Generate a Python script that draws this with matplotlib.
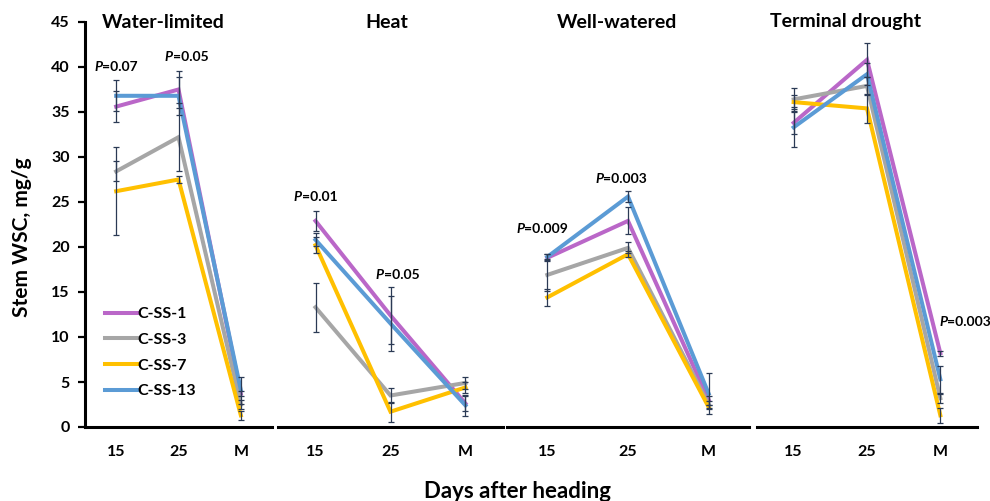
import matplotlib
matplotlib.use("Agg")
import matplotlib.pyplot as plt
from matplotlib.offsetbox import TextArea, HPacker, AnnotationBbox

plt.rcParams['font.family'] = ['Lato', 'DejaVu Sans']
plt.rcParams['font.weight'] = 'bold'

days = ['15', '25', 'M']
panels = ['Water-limited', 'Heat', 'Well-watered', 'Terminal drought']
lines_names = ['C-SS-1', 'C-SS-3', 'C-SS-7', 'C-SS-13']
colors = ['#BA67C8', '#A6A6A6', '#FFC000', '#5B9BD5']

# means per panel, per line
wl_mean = [[35.6, 37.5, 3.7], [28.4, 32.2, 2.5], [26.2, 27.5, 1.3], [36.8, 36.8, 4.1]]
wl_err = [[1.7, 2.1, 0.3], [1.1, 3.8, 0.5], [4.9, 0.4, 0.5], [1.7, 2.1, 1.5]]
heat_mean = [[22.9, 12.4, 2.6], [13.3, 3.5, 4.9], [20.2, 1.7, 4.4], [20.8, 11.5, 2.4]]
heat_err = [[1.1, 3.2, 0.8], [2.7, 0.8, 0.7], [0.9, 1.1, 0.6], [0.7, 3.1, 1.2]]
ww_mean = [[18.8, 22.9, 3.0], [16.9, 19.9, 2.5], [14.4, 19.2, 2.2], [18.9, 25.6, 3.7]]
ww_err = [[0.4, 1.5, 0.5], [1.8, 0.6, 0.4], [0.9, 0.3, 0.2], [0.3, 0.6, 2.3]]
td_mean = [[33.8, 40.8, 8.2], [36.4, 37.9, 3.2], [36.1, 35.4, 1.3], [33.3, 39.2, 5.3]]
td_err = [[1.2, 1.9, 0.3], [1.3, 1.0, 0.5], [0.8, 1.6, 0.8], [2.2, 1.2, 1.5]]

means = [wl_mean, heat_mean, ww_mean, td_mean]
errs = [wl_err, heat_err, ww_err, td_err]

# P-value notes: panel, day index, y value, label, x offset in px
p_panel = [0, 0, 1, 1, 2, 2, 3]
p_day = [0, 1, 0, 1, 0, 1, 2]
p_y = [40.0, 41.1, 25.6, 16.9, 22.0, 27.6, 11.7]
p_text = ['=0.07', '=0.05', '=0.01', '=0.05', '=0.009', '=0.003', '=0.003']
p_dx = [0, 8, 0, 7, -5, -7, 25]

W, H = 990, 501
fig = plt.figure(figsize=(W / 100, H / 100), dpi=100)

# axes extents in pixels (left, right)
extents = [(85, 272), (278, 503), (507, 749), (757, 977)]
title_x = [163, 387, 617, 846]
y_bot, y_top = 427, 22

err_col = '#2B3A55'
axes = []
for i, (l, r) in enumerate(extents):
    ax = fig.add_axes([l / W, 1 - y_bot / H, (r - l) / W, (y_bot - y_top) / H])
    axes.append(ax)
    ax.set_xlim(-0.5, 2.5)
    ax.set_ylim(0, 45)
    for s in ['top', 'right']:
        ax.spines[s].set_visible(False)
    ax.spines['bottom'].set_linewidth(2.2)
    ax.spines['bottom'].set_color('black')
    ax.set_xticks(range(3))
    ax.set_xticklabels(days)
    ax.tick_params(axis='x', length=0, pad=13, labelsize=11.5)
    ax.patch.set_alpha(0)
    if i == 0:
        ax.spines['left'].set_linewidth(2.2)
        ax.set_yticks(range(0, 46, 5))
        ax.tick_params(axis='y', length=5, width=1.6, pad=6, labelsize=11.5)
    else:
        ax.spines['left'].set_visible(False)
        ax.set_yticks([])

    for j in range(4):
        ax.plot(range(3), means[i][j], color=colors[j], lw=2.9,
                solid_joinstyle='miter', label=lines_names[j], zorder=3)
    for j in range(4):
        ax.errorbar(range(3), means[i][j], yerr=errs[i][j], fmt='none',
                    ecolor=err_col, elinewidth=0.9, capsize=2.5, capthick=0.9, zorder=4)
    fig.text(title_x[i] / W, 1 - 22 / H, panels[i], ha='center', va='center',
             fontsize=14, fontweight='bold')

axes[0].legend(loc='upper left', bbox_to_anchor=(0.105, 0.296), frameon=False,
               fontsize=11.5, handlelength=2.0, handletextpad=0.05, labelspacing=0.72,
               borderpad=0, borderaxespad=0)

for k in range(len(p_text)):
    ax = axes[p_panel[k]]
    ta1 = TextArea('P', textprops=dict(fontsize=10, fontweight='bold', fontstyle='italic'))
    ta2 = TextArea(p_text[k], textprops=dict(fontsize=10, fontweight='bold'))
    box = HPacker(children=[ta1, ta2], align='baseline', pad=0, sep=0)
    ab = AnnotationBbox(box, (p_day[k], p_y[k]), xybox=(p_dx[k] * 0.72, 0),
                        xycoords='data', boxcoords='offset points',
                        frameon=False, box_alignment=(0.5, 0.5), zorder=5,
                        annotation_clip=False)
    ax.add_artist(ab)

fig.text(22 / W, 1 - 237 / H, 'Stem WSC, mg/g', rotation=90, ha='center', va='center',
         fontsize=15, fontweight='bold')
fig.text(517 / W, 1 - 492 / H, 'Days after heading', ha='center', va='center',
         fontsize=16, fontweight='bold')

fig.savefig('out.png', dpi=100)
